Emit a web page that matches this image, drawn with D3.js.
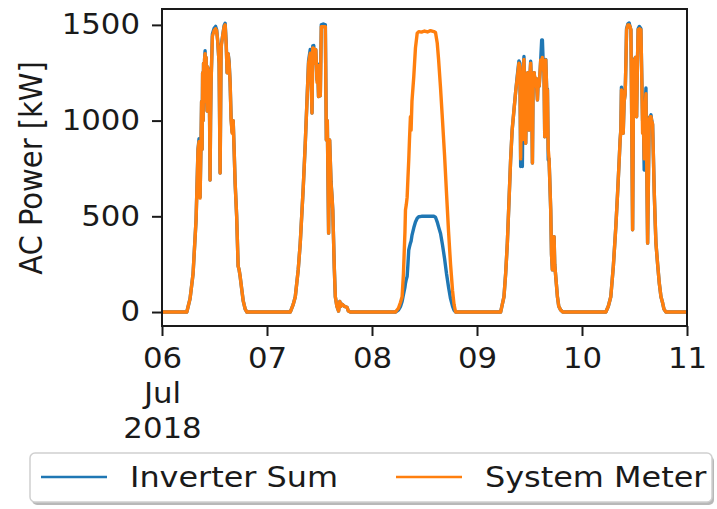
<!DOCTYPE html>
<html>
<head>
<meta charset="utf-8">
<script src="https://cdn.jsdelivr.net/npm/d3@7"></script>
<style>
body{margin:0;background:#fff}
text{font-family:"DejaVu Sans",sans-serif;fill:#1a1a1a}
</style>
</head>
<body>
<svg id="chart" width="717" height="509"></svg>
<script>
// hours since 2018-07-06 00:00
var hours=[0,
 5.66,6.41,7.10,7.79,8.24,8.47,8.59,8.70,8.93,9.05,9.16,9.28,9.40,9.50,9.62,9.73,9.85,9.96,10.08,10.19,10.31,10.42,10.53,10.65,10.76,10.88,10.99,11.10,11.22,11.52,11.91,12.25,12.48,12.71,13.05,13.28,13.51,13.85,14.20,14.43,14.66,14.89,15.11,15.34,15.57,15.80,16.03,16.26,16.49,16.72,17.06,17.40,17.63,17.86,18.21,18.55,19.01,19.40,
 29.31,30.00,30.46,31.14,31.60,32.29,32.75,33.14,33.50,33.89,34.12,34.28,34.46,34.69,34.92,35.15,35.43,35.56,35.79,35.95,36.18,36.41,36.87,37.33,37.56,37.79,38.08,38.31,38.63,38.86,39.04,39.23,39.39,39.62,39.96,40.37,40.65,40.88,41.22,41.68,42.30,42.59,43.05,
 53.36,54.04,54.50,54.89,55.19,55.53,55.65,55.83,56.04,56.22,56.40,56.56,56.79,56.93,57.14,57.55,57.94,58.33,58.69,59.31,60.00,60.69,61.37,62.13,62.52,62.91,63.21,63.66,64.12,64.58,65.04,65.50,65.95,66.41,66.75,67.10,
 77.40,78.16,78.55,78.94,79.35,79.69,80.04,80.45,80.84,81.23,81.59,81.80,81.98,82.17,82.37,82.56,82.74,82.94,83.13,83.36,83.59,83.89,84.04,84.27,84.50,84.66,84.84,85.07,85.30,85.53,85.81,85.99,86.22,86.40,86.56,86.79,86.95,87.13,87.32,87.48,87.71,87.94,88.10,88.28,88.47,88.62,88.85,89.04,89.24,89.43,89.61,89.77,90.00,90.39,90.68,91.14,91.60,
 101.45,102.02,102.59,103.16,103.74,104.13,104.50,104.72,104.88,105.02,105.20,105.41,105.64,105.87,106.03,106.19,106.49,106.79,106.99,107.18,107.36,107.56,107.70,107.79,107.97,108.20,108.48,108.66,108.84,109.12,109.47,109.69,109.85,110.04,110.22,110.42,110.61,110.79,111.00,111.18,111.36,111.57,111.76,111.94,112.14,112.33,112.52,112.72,112.90,113.29,113.66,114.05,114.43,114.74,115.19,
 120];

var systemMeter=[0,
 0,70,200,480,850,890,700,595,900,1100,850,1250,1000,1300,1150,1320,1350,1100,1330,1150,1050,1280,1265,1100,1250,1000,690,1000,1200,1440,1470,1480,1470,1420,1300,726,1380,1440,1490,1500,1400,1250,1350,1300,1200,1000,934,1000,850,674,500,240,220,185,120,60,15,0,
 0,40,80,220,360,650,882,1100,1300,1352,1200,1040,1380,1378,1300,1370,1200,1290,1125,1140,1130,1491,1490,1491,899,1000,412,899,674,600,533,360,230,80,30,5,55,30,40,30,25,5,0,
 0,20,50,80,200,420,533,560,600,700,794,900,1020,950,1100,1230,1380,1457,1465,1462,1468,1463,1470,1465,1460,1404,1320,1170,1000,820,620,420,250,110,40,0,
 0,80,200,360,600,794,950,1055,1150,1230,1300,1280,800,1200,900,1250,1320,1100,882,1200,1250,951,1200,1300,1150,778,1230,1250,1180,1220,1108,1210,1180,1250,1317,1300,1330,1280,1250,916,1317,1160,1160,850,800,700,533,300,220,350,393,250,185,80,30,10,0,
 0,30,80,240,446,620,794,900,951,1160,1150,934,1100,1140,1300,1474,1500,1500,1490,1474,1000,430,900,1317,1300,1330,1020,1300,1474,1480,1474,1200,934,1000,800,1050,1140,800,360,700,1003,1020,1020,1000,980,800,622,480,360,250,150,80,47,15,0,
 0];

var inverterSum=[0,
 0,70,200,480,850,905,700,600,900,1100,850,1250,1000,1300,1150,1320,1365,1100,1330,1150,1050,1280,1272,1100,1258,1000,690,1000,1200,1452,1482,1492,1476,1420,1300,726,1392,1440,1497,1508,1412,1250,1350,1312,1200,1012,940,1000,850,674,500,240,220,185,120,60,15,0,
 0,40,80,220,360,650,882,1100,1312,1372,1200,1040,1390,1392,1300,1370,1212,1296,1125,1140,1130,1500,1505,1500,899,1000,412,899,682,600,533,360,230,80,30,5,55,30,40,30,25,5,0,
 0,10,28,55,90,130,150,170,185,250,324,340,360,370,400,440,470,490,498,500,501,500,501,500,495,470,445,410,350,280,200,130,70,30,10,0,
 0,80,200,360,600,794,950,1055,1150,1240,1312,1300,760,1200,760,1250,1335,1100,882,1200,1250,951,1200,1310,1150,778,1230,1250,1180,1220,1108,1210,1180,1250,1320,1421,1421,1300,1250,916,1320,1160,1165,794,800,700,533,300,220,350,393,250,185,80,30,10,0,
 0,30,80,240,446,620,794,900,951,1175,1150,934,1100,1140,1300,1480,1505,1510,1490,1474,1000,430,900,1320,1300,1330,1020,1300,1480,1492,1480,1200,1000,1000,742,1050,1170,800,360,700,1015,1020,1030,1000,980,800,622,480,360,250,150,80,47,15,0,
 0];

var yTicks=[0,500,1000,1500];
var dayTicks=["2018-07-06","2018-07-07","2018-07-08","2018-07-09","2018-07-10","2018-07-11"];
var firstTickLines=["06","Jul","2018"];
var seriesNames=["Inverter Sum","System Meter"];
var seriesColors=["#1f77b4","#ff7f0e"];
var yLabel="AC Power [kW]";

var svg=d3.select("#chart");
var pLeft=162,pRight=687,pTop=9,pBottom=326;
var stretch=1.1;

var parseDay=d3.utcParse("%Y-%m-%d");
var start=parseDay(dayTicks[0]);
var x=d3.scaleUtc().domain([start,parseDay(dayTicks[dayTicks.length-1])]).range([pLeft,pRight]);
var y=d3.scaleLinear().domain([-73,1583]).range([pBottom,pTop]);

svg.append("clipPath").attr("id","plotclip")
 .append("rect").attr("x",pLeft).attr("y",pTop).attr("width",pRight-pLeft).attr("height",pBottom-pTop);

function series(vals){
 return hours.map(function(h,i){return {t:d3.utcMinute.offset(start,Math.round(h*60)),v:vals[i]};});
}
var line=d3.line().x(function(d){return x(d.t);}).y(function(d){return y(d.v);});

var plot=svg.append("g").attr("clip-path","url(#plotclip)");
[inverterSum,systemMeter].forEach(function(vals,i){
 plot.append("path").datum(series(vals))
  .attr("d",line)
  .attr("fill","none")
  .attr("stroke",seriesColors[i])
  .attr("stroke-width",3.4)
  .attr("stroke-linejoin","round")
  .attr("stroke-linecap","square");
});

// frame
svg.append("rect").attr("x",pLeft).attr("y",pTop).attr("width",pRight-pLeft).attr("height",pBottom-pTop)
 .attr("fill","none").attr("stroke","#1a1a1a").attr("stroke-width",2);

// y axis
var ya=svg.append("g").attr("transform","translate("+pLeft+",0)")
 .call(d3.axisLeft(y).tickValues(yTicks).tickSize(10).tickPadding(12).tickFormat(d3.format("d")));
ya.select(".domain").remove();
ya.selectAll(".tick line").attr("stroke","#1a1a1a").attr("stroke-width",2);
ya.selectAll(".tick text").attr("font-size",28).attr("fill","#1a1a1a")
 .attr("font-family","DejaVu Sans")
 .attr("transform","scale("+stretch+",1)")
 .attr("x",-22/stretch);

// x axis
var xa=svg.append("g").attr("transform","translate(0,"+pBottom+")")
 .call(d3.axisBottom(x).tickValues(dayTicks.map(parseDay)).tickSize(10).tickFormat(""));
xa.select(".domain").remove();
xa.selectAll(".tick line").attr("stroke","#1a1a1a").attr("stroke-width",2);
xa.selectAll(".tick").each(function(d,i){
 var lines=i===0?firstTickLines:[dayTicks[i].slice(8)];
 var t=d3.select(this).select("text").text(null)
  .attr("font-size",28).attr("fill","#1a1a1a").attr("font-family","DejaVu Sans")
  .attr("transform","scale("+stretch+",1)").attr("y",0).attr("dy",null);
 lines.forEach(function(s,k){
  t.append("tspan").attr("x",0).attr("y",42+k*35).text(s);
 });
});

// y label
svg.append("text")
 .attr("transform","translate(42,168) scale("+stretch+",1) rotate(-90)")
 .attr("text-anchor","middle")
 .attr("font-size",29)
 .text(yLabel);

// legend
var lg=svg.append("g");
lg.append("rect").attr("x",32).attr("y",456).attr("width",682).attr("height",49).attr("rx",5)
 .attr("fill","#888").attr("opacity",0.6);
lg.append("rect").attr("x",30).attr("y",453).attr("width",682).attr("height",49).attr("rx",5)
 .attr("fill","#fff").attr("stroke","#d0d0d0").attr("stroke-width",1.5);
var legX=[41,396];
seriesNames.forEach(function(n,i){
 lg.append("line").attr("x1",legX[i]).attr("x2",legX[i]+66).attr("y1",477).attr("y2",477)
  .attr("stroke",seriesColors[i]).attr("stroke-width",2.7);
 lg.append("text")
  .attr("transform","translate("+(legX[i]+89)+",487) scale("+stretch+",1)")
  .attr("font-size",29)
  .text(n);
});
</script>
</body>
</html>
